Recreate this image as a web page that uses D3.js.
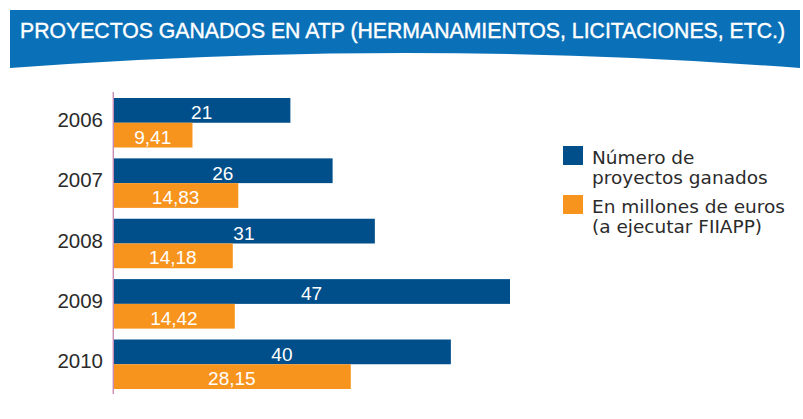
<!DOCTYPE html>
<html>
<head>
<meta charset="utf-8">
<script src="https://cdn.jsdelivr.net/npm/d3@7"></script>
<style>
body { margin:0; background:#fff; }
</style>
</head>
<body>
<div id="chart-area"></div>
<script>
var years = ["2006", "2007", "2008", "2009", "2010"];
var proyectos = [21, 26, 31, 47, 40];
var millones = [9.41, 14.83, 14.18, 14.42, 28.15];
var millonesLabels = ["9,41", "14,83", "14,18", "14,42", "28,15"];
var legendLines = [
    ["Número de", "proyectos ganados"],
    ["En millones de euros", "(a ejecutar FIIAPP)"]
];
var title = "PROYECTOS GANADOS EN ATP (HERMANAMIENTOS, LICITACIONES, ETC.)";

var blue = "#004f8b";
var orange = "#f7941d";
var numFont = "'Liberation Sans', Arial, sans-serif";

var svg = d3.select("#chart-area").append("svg")
    .attr("width", 803)
    .attr("height", 419);

// banner with curved bottom edge
svg.append("path")
    .attr("d", "M10,10 L800,10 L800,68 Q405,38 10,68 Z")
    .attr("fill", "#0a70b8");
svg.append("text")
    .attr("x", 20)
    .attr("y", 38)
    .attr("fill", "#fff")
    .attr("stroke", "#fff")
    .attr("stroke-width", 0.4)
    .attr("font-family", numFont)
    .attr("font-size", "21.5px")
    .attr("textLength", 765)
    .attr("lengthAdjust", "spacingAndGlyphs")
    .text(title);

var x = d3.scaleLinear()
    .domain([0, 47])
    .range([113, 510]);
var y = d3.scaleBand()
    .domain(years)
    .range([98, 389])
    .paddingInner(0.18)
    .paddingOuter(0);
var bh = y.bandwidth() / 2;

var data = years.map((d, i) => ({
    year: d, p: proyectos[i], m: millones[i], ml: millonesLabels[i]
}));

var g = svg.append("g");
g.selectAll("rect.p")
    .data(data).enter().append("rect")
    .attr("class", "p")
    .attr("x", x(0))
    .attr("y", (d) => y(d.year))
    .attr("width", (d) => x(d.p) - x(0))
    .attr("height", bh)
    .attr("fill", blue);
g.selectAll("rect.m")
    .data(data).enter().append("rect")
    .attr("class", "m")
    .attr("x", x(0))
    .attr("y", (d) => y(d.year) + bh)
    .attr("width", (d) => x(d.m) - x(0))
    .attr("height", bh)
    .attr("fill", orange);

// value labels
g.selectAll("text.p")
    .data(data).enter().append("text")
    .attr("class", "p")
    .attr("x", (d) => (x(0) + x(d.p)) / 2)
    .attr("y", (d) => y(d.year) + bh - 3.5)
    .attr("text-anchor", "middle")
    .attr("fill", "#fff")
    .attr("font-family", numFont)
    .attr("font-size", "19px")
    .text((d) => d.p);
g.selectAll("text.m")
    .data(data).enter().append("text")
    .attr("class", "m")
    .attr("x", (d) => (x(0) + x(d.m)) / 2)
    .attr("y", (d) => y(d.year) + 2 * bh - 4)
    .attr("text-anchor", "middle")
    .attr("fill", "#fff")
    .attr("font-family", numFont)
    .attr("font-size", "19px")
    .text((d) => d.ml);

// y axis
var yAxis = d3.axisLeft(y).tickSize(0).tickPadding(10);
var ax = svg.append("g")
    .attr("transform", "translate(113,0)")
    .call(yAxis);
ax.select(".domain").remove();
ax.selectAll("text")
    .attr("font-family", numFont)
    .attr("font-size", "20.5px")
    .attr("fill", "#2b2b2b")
    .attr("dy", "0.2em");
svg.append("line")
    .attr("x1", 113.3).attr("x2", 113.3)
    .attr("y1", 92).attr("y2", 394)
    .attr("stroke", "#c98bb3")
    .attr("stroke-width", 1.4);

// legend
var legend = svg.append("g").attr("transform", "translate(563,146)");
[blue, orange].forEach((c, i) => {
    var lg = legend.append("g").attr("transform", "translate(0," + (i * 49) + ")");
    lg.append("rect")
        .attr("width", 20)
        .attr("height", 19)
        .attr("fill", c);
    legendLines[i].forEach((t, j) => {
        lg.append("text")
            .attr("x", 29)
            .attr("y", 18 + j * 19.5)
            .attr("font-family", "'DejaVu Sans', sans-serif")
            .attr("font-size", "18.5px")
            .attr("fill", "#2b2b2b")
            .text(t);
    });
});
</script>
</body>
</html>
